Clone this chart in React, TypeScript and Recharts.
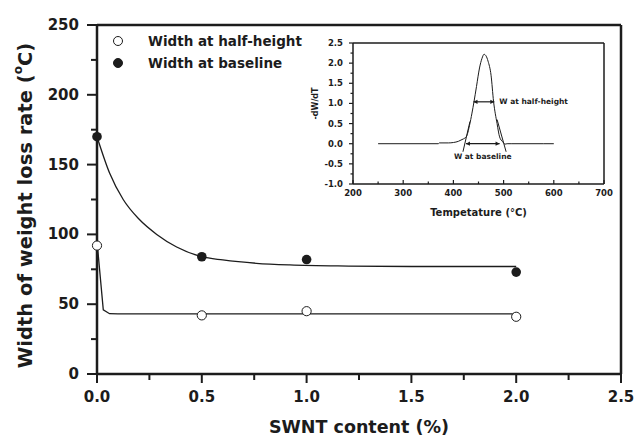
import React from "react";
import {
  ComposedChart,
  LineChart,
  Line,
  Scatter,
  XAxis,
  YAxis,
  ReferenceLine,
  Legend,
} from "recharts";

// main plot: peak widths vs SWNT content
const contentPct = [0, 0.5, 1.0, 2.0];
const halfHeightWidth = [92, 42, 45, 41];
const baselineWidth = [170, 84, 82, 73];
const seriesNames = ["Width at half-height", "Width at baseline"];

// fitted curves
const baselineFitX = [0, 0.06, 0.125, 0.2, 0.285, 0.38, 0.5, 0.6, 0.76, 0.92, 1.2, 1.5, 2.0];
const baselineFitY = [170, 144, 125, 111, 100, 91, 84, 81.7, 79.3, 78.1, 77.3, 77, 77];
const halfFitX = [0, 0.03, 0.06, 0.1, 0.5, 1.0, 1.5, 2.0];
const halfFitY = [95, 46, 43.2, 43, 43, 43, 43, 43];

const mainXTicks = [0, 0.25, 0.5, 0.75, 1, 1.25, 1.5, 1.75, 2, 2.25, 2.5];
const mainYTicks = [0, 25, 50, 75, 100, 125, 150, 175, 200, 225, 250];

// inset: DTG curve
const tempC = [250, 370, 372, 390, 400, 410, 415, 420, 426, 432, 437, 441, 446, 452, 457, 461, 465, 469, 475, 480, 487, 492, 498, 503, 507, 515, 580, 600];
const dwdt = [0, 0, 0.02, 0.02, 0.03, 0.06, 0.09, 0.12, 0.18, 0.45, 0.76, 1.04, 1.42, 1.88, 2.12, 2.22, 2.18, 2.05, 1.7, 1.05, 0.5, 0.17, 0.05, -0.01, 0, 0, 0, 0];
const insetXTicks = [200, 250, 300, 350, 400, 450, 500, 550, 600, 650, 700];
const insetYTicks = [-1, -0.75, -0.5, -0.25, 0, 0.25, 0.5, 0.75, 1, 1.25, 1.5, 1.75, 2, 2.25, 2.5];

const halfArrow = [
  { x: 440, y: 1.04 },
  { x: 481.5, y: 1.04 },
];
const baseArrow = [
  { x: 425, y: 0 },
  { x: 492, y: 0 },
];
const leftTangent = [
  { x: 419, y: -0.2 },
  { x: 433, y: 0.55 },
];
const rightTangent = [
  { x: 505, y: -0.2 },
  { x: 487, y: 0.6 },
];

const INK = "#1c1c1c";
const FONT = "'DejaVu Sans', sans-serif";

const halfData = contentPct.map((x, i) => ({ x, y: halfHeightWidth[i] }));
const baseData = contentPct.map((x, i) => ({ x, y: baselineWidth[i] }));
const baseFit = baselineFitX.map((x, i) => ({ x, y: baselineFitY[i] }));
const halfFit = halfFitX.map((x, i) => ({ x, y: halfFitY[i] }));
const dtg = tempC.map((t, i) => ({ t, v: dwdt[i] }));

const isMultiple = (v: number, step: number) =>
  Math.abs(v / step - Math.round(v / step)) < 1e-6;

const MainXTick = ({ x, y, payload }: any) => {
  const major = isMultiple(payload.value, 0.5);
  return (
    <g>
      <line x1={x} x2={x} y1={y} y2={y + (major ? 9 : 6)} stroke={INK} strokeWidth={2} />
      {major && (
        <text x={x} y={y + 23} textAnchor="middle" dominantBaseline="central"
          fontFamily={FONT} fontWeight="bold" fontSize={15} fill={INK}>
          {payload.value.toFixed(1)}
        </text>
      )}
    </g>
  );
};

const MainYTick = ({ x, y, payload }: any) => {
  const major = isMultiple(payload.value, 50);
  return (
    <g>
      <line x1={x} x2={x - (major ? 10 : 6)} y1={y} y2={y} stroke={INK} strokeWidth={2} />
      {major && (
        <text x={x - 18} y={y} textAnchor="end" dominantBaseline="central"
          fontFamily={FONT} fontWeight="bold" fontSize={15} fill={INK}>
          {payload.value}
        </text>
      )}
    </g>
  );
};

const InsetXTick = ({ x, y, payload }: any) => {
  const major = isMultiple(payload.value, 100);
  return (
    <g>
      <line x1={x} x2={x} y1={y} y2={y - (major ? 4 : 2.5)} stroke={INK} strokeWidth={1.2} />
      {major && (
        <text x={x} y={y + 9} textAnchor="middle" dominantBaseline="central"
          fontFamily={FONT} fontWeight="bold" fontSize={8.5} fill={INK}>
          {payload.value}
        </text>
      )}
    </g>
  );
};

const InsetYTick = ({ x, y, payload }: any) => {
  const major = isMultiple(payload.value, 0.5);
  return (
    <g>
      <line x1={x} x2={x - (major ? 4 : 2.5)} y1={y} y2={y} stroke={INK} strokeWidth={1.2} />
      {major && (
        <text x={x - 10} y={y} textAnchor="end" dominantBaseline="central"
          fontFamily={FONT} fontWeight="bold" fontSize={8.5} fill={INK}>
          {payload.value.toFixed(1)}
        </text>
      )}
    </g>
  );
};

const OpenDot = (p: any) => (
  <circle cx={p.cx} cy={p.cy} r={4.6} fill="#fff" stroke={INK} strokeWidth={1} />
);
const FilledDot = (p: any) => <circle cx={p.cx} cy={p.cy} r={4.8} fill={INK} />;

const DoubleArrow = (p: any) => {
  const { x1, y1, x2, y2 } = p;
  const h = 3;
  return (
    <g>
      <line x1={x1} y1={y1} x2={x2} y2={y2} stroke={INK} strokeWidth={1.2} />
      <path d={`M${x1},${y1} l${h + 1},${-h * 0.7} l0,${h * 1.4} Z`} fill={INK} />
      <path d={`M${x2},${y2} l${-h - 1},${-h * 0.7} l0,${h * 1.4} Z`} fill={INK} />
    </g>
  );
};

const LegendBox = () => (
  <div style={{ fontFamily: FONT, fontWeight: "bold", fontSize: 13.5, color: INK }}>
    {seriesNames.map((name, i) => (
      <div key={name} style={{ display: "flex", alignItems: "center", height: 22 }}>
        <svg width={12} height={12} style={{ marginRight: 24 }}>
          <circle cx={6} cy={6} r={4.5} fill={i === 0 ? "#fff" : INK} stroke={INK} strokeWidth={1} />
        </svg>
        <span>{name}</span>
      </div>
    ))}
  </div>
);

const MainYTitle = ({ viewBox }: any) => {
  const cx = 25;
  const cy = viewBox.y + viewBox.height / 2 + 6;
  return (
    <text x={cx} y={cy} transform={`rotate(-90 ${cx} ${cy})`} textAnchor="middle"
      dominantBaseline="central" fontFamily={FONT} fontWeight="bold" fontSize={19.5} fill={INK}>
      Width of weight loss rate (<tspan dy={-7} fontSize={12}>o</tspan>
      <tspan dy={7}>C)</tspan>
    </text>
  );
};

const MainXTitle = ({ viewBox }: any) => (
  <text x={viewBox.x + viewBox.width / 2} y={viewBox.y + 53} textAnchor="middle"
    dominantBaseline="central" fontFamily={FONT} fontWeight="bold" fontSize={17.5} fill={INK}>
    SWNT content (%)
  </text>
);

const InsetYTitle = ({ viewBox }: any) => {
  const cx = 15;
  const cy = viewBox.y + viewBox.height / 2 - 10;
  return (
    <text x={cx} y={cy} transform={`rotate(-90 ${cx} ${cy})`} textAnchor="middle"
      dominantBaseline="central" fontFamily={FONT} fontWeight="bold" fontSize={8} fill={INK}>
      -dW/dT
    </text>
  );
};

const InsetXTitle = ({ viewBox }: any) => (
  <text x={viewBox.x + viewBox.width / 2} y={viewBox.y + 28} textAnchor="middle"
    dominantBaseline="central" fontFamily={FONT} fontWeight="bold" fontSize={10} fill={INK}>
    Tempetature (°C)
  </text>
);

const annoLabel = { fontFamily: FONT, fontWeight: "bold", fontSize: 7.5, fill: INK };

function Inset() {
  return (
    <LineChart width={320} height={195} margin={{ top: 13, right: 16, bottom: 0, left: 0 }}>
      <XAxis type="number" dataKey="t" domain={[200, 700]} ticks={insetXTicks} interval={0}
        tickSize={0} tickMargin={0} tickLine={false} tick={<InsetXTick />} height={41}
        axisLine={{ stroke: INK, strokeWidth: 1.5 }} label={{ content: InsetXTitle }} />
      <YAxis type="number" domain={[-1, 2.5]} ticks={insetYTicks} interval={0} width={53}
        tickSize={0} tickMargin={0} tickLine={false} tick={<InsetYTick />}
        axisLine={{ stroke: INK, strokeWidth: 1.5 }} label={{ content: InsetYTitle }} />
      <ReferenceLine y={2.5} stroke={INK} strokeWidth={1.5} />
      <ReferenceLine x={700} stroke={INK} strokeWidth={1.5} />
      <Line data={dtg} dataKey="v" type="monotone" stroke={INK} strokeWidth={1}
        dot={false} isAnimationActive={false} />
      <ReferenceLine segment={leftTangent} stroke={INK} strokeWidth={1} />
      <ReferenceLine segment={rightTangent} stroke={INK} strokeWidth={1} />
      <ReferenceLine segment={halfArrow} shape={DoubleArrow}
        label={{ value: "W at half-height", position: "right", offset: 5, ...annoLabel }} />
      <ReferenceLine segment={baseArrow} shape={DoubleArrow}
        label={{ value: "W at baseline", position: "bottom", offset: 10, ...annoLabel }} />
    </LineChart>
  );
}

export default function App() {
  return (
    <div style={{ position: "absolute", left: 0, top: 0, width: 636, height: 438, background: "#fff" }}>
      <ComposedChart width={636} height={438} margin={{ top: 25, right: 15, bottom: 0, left: 0 }}>
        <XAxis type="number" dataKey="x" domain={[0, 2.5]} ticks={mainXTicks} interval={0}
          tickSize={0} tickMargin={0} tickLine={false} tick={<MainXTick />} height={64}
          axisLine={{ stroke: INK, strokeWidth: 2.5 }} label={{ content: MainXTitle }} />
        <YAxis type="number" dataKey="y" domain={[0, 250]} ticks={mainYTicks} interval={0} width={97}
          tickSize={0} tickMargin={0} tickLine={false} tick={<MainYTick />}
          axisLine={{ stroke: INK, strokeWidth: 2.5 }} label={{ content: MainYTitle }} />
        <ReferenceLine y={250} stroke={INK} strokeWidth={2.5} />
        <ReferenceLine x={2.5} stroke={INK} strokeWidth={2.5} />
        <Line data={baseFit} dataKey="y" type="monotone" stroke={INK} strokeWidth={1.3}
          dot={false} legendType="none" isAnimationActive={false} />
        <Line data={halfFit} dataKey="y" type="linear" stroke={INK} strokeWidth={1.3}
          dot={false} legendType="none" isAnimationActive={false} />
        <Scatter name={seriesNames[0]} data={halfData} dataKey="y" shape={OpenDot} isAnimationActive={false} />
        <Scatter name={seriesNames[1]} data={baseData} dataKey="y" shape={FilledDot} isAnimationActive={false} />
        <Legend layout="vertical" align="center" verticalAlign="middle"
          wrapperStyle={{ left: 112, top: 30, width: 240 }} content={() => <LegendBox />} />
      </ComposedChart>
      <div style={{ position: "absolute", left: 300, top: 30 }}>
        <Inset />
      </div>
    </div>
  );
}
